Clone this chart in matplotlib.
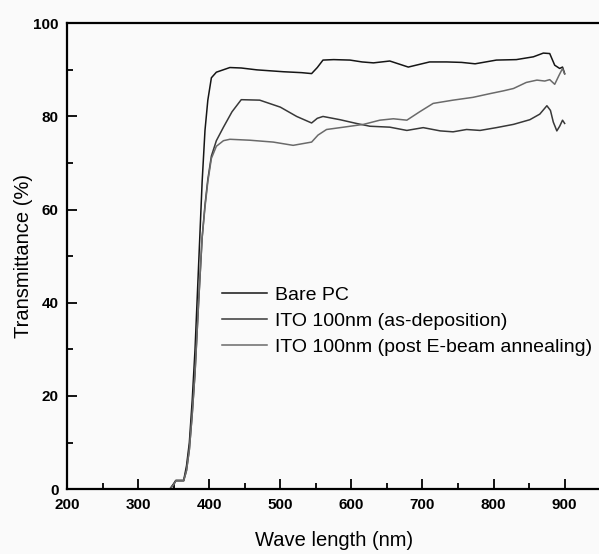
import matplotlib
matplotlib.use("Agg")
import matplotlib.pyplot as plt
from matplotlib.ticker import MultipleLocator

plt.rcParams['font.family'] = ['Liberation Sans', 'DejaVu Sans']

# Bare PC
wl_bare = [340, 345, 350, 353, 364, 368, 372, 376, 380, 385, 390, 394, 398, 403, 410,
           429, 445, 467, 504, 530, 544, 552, 560, 575, 598, 615, 631, 654, 680, 710,
           734, 755, 774, 804, 832, 856, 870, 879, 886, 893, 897, 900]
t_bare = [0, 0.1, 1.2, 1.9, 1.9, 5, 10, 19, 30, 48, 66, 77, 83.5, 88.3, 89.5,
          90.5, 90.4, 90.0, 89.6, 89.4, 89.2, 90.5, 92.1, 92.2, 92.1, 91.7, 91.5, 91.9, 90.6, 91.7,
          91.7, 91.6, 91.3, 92.1, 92.2, 92.8, 93.6, 93.5, 91.0, 90.3, 90.6, 89.2]

# ITO 100nm as-deposition
wl_asdep = [340, 345, 350, 353, 364, 368, 372, 376, 380, 385, 390, 394, 398, 403, 410,
            420, 432, 445, 471, 500, 523, 544, 552, 560, 584, 607, 626, 654, 678, 701,
            725, 743, 762, 781, 804, 828, 851, 865, 875, 880, 884, 889, 893, 897, 900]
t_asdep = [0, 0.1, 1.0, 1.8, 1.8, 4, 8.5, 16, 25, 40, 54, 61, 66.5, 71.5, 74.8,
           77.7, 81, 83.6, 83.5, 82.0, 80.0, 78.6, 79.6, 80.0, 79.3, 78.5, 77.9, 77.7, 77.0, 77.6,
           76.9, 76.7, 77.2, 77.0, 77.6, 78.3, 79.3, 80.5, 82.3, 81.3, 78.8, 76.9, 77.9, 79.2, 78.5]

# ITO 100nm post E-beam annealing
wl_anneal = [340, 345, 350, 353, 364, 368, 372, 376, 380, 385, 390, 394, 398, 403, 410,
             420, 429, 457, 490, 518, 544, 553, 565, 589, 617, 640, 659, 678, 696, 715,
             743, 771, 795, 814, 828, 846, 861, 872, 879, 886, 892, 897, 900]
t_anneal = [0, 0.1, 1.0, 1.8, 1.8, 4, 8.5, 16, 25, 40, 54, 60.5, 66, 71, 73.6,
            74.8, 75.1, 74.9, 74.5, 73.8, 74.5, 76.0, 77.2, 77.7, 78.3, 79.2, 79.5, 79.2, 81.0, 82.8,
            83.5, 84.1, 84.9, 85.5, 86.0, 87.3, 87.8, 87.6, 87.9, 86.9, 88.8, 90.3, 89.1]

labels = ["Bare PC", "ITO 100nm (as-deposition)", "ITO 100nm (post E-beam annealing)"]
colors = ["#151515", "#383838", "#6a6a6a"]

fig = plt.figure(figsize=(5.99, 5.54), dpi=100, facecolor="#fafafa")
ax = fig.add_axes([0.112, 0.117, 0.890, 0.841])
ax.set_facecolor("#fafafa")

ax.plot(wl_bare, t_bare, color=colors[0], lw=1.1, label=labels[0])
ax.plot(wl_asdep, t_asdep, color=colors[1], lw=1.1, label=labels[1])
ax.plot(wl_anneal, t_anneal, color=colors[2], lw=1.1, label=labels[2])

ax.set_xlim(200, 950)
ax.set_ylim(0, 100)
ax.xaxis.set_major_locator(MultipleLocator(100))
ax.xaxis.set_minor_locator(MultipleLocator(50))
ax.yaxis.set_major_locator(MultipleLocator(20))
ax.yaxis.set_minor_locator(MultipleLocator(10))
ax.tick_params(which="both", direction="in", width=1.3, top=False, right=False)
ax.tick_params(which="major", length=7, labelsize=11, pad=6)
ax.tick_params(which="minor", length=4)
for lab in ax.get_xticklabels() + ax.get_yticklabels():
    lab.set_fontweight("bold")
for s in ax.spines.values():
    s.set_linewidth(1.6)

ax.set_xlabel("Wave length (nm)", fontsize=14.5, labelpad=14)
ax.set_ylabel("Transmittance (%)", fontsize=14.5, labelpad=0)

leg = ax.legend(loc="upper left", bbox_to_anchor=(0.276, 0.453), frameon=False,
                fontsize=14, handlelength=2.3, handletextpad=0.45, labelspacing=0.45,
                borderaxespad=0)

fig.savefig("out.png", dpi=100, facecolor=fig.get_facecolor())
